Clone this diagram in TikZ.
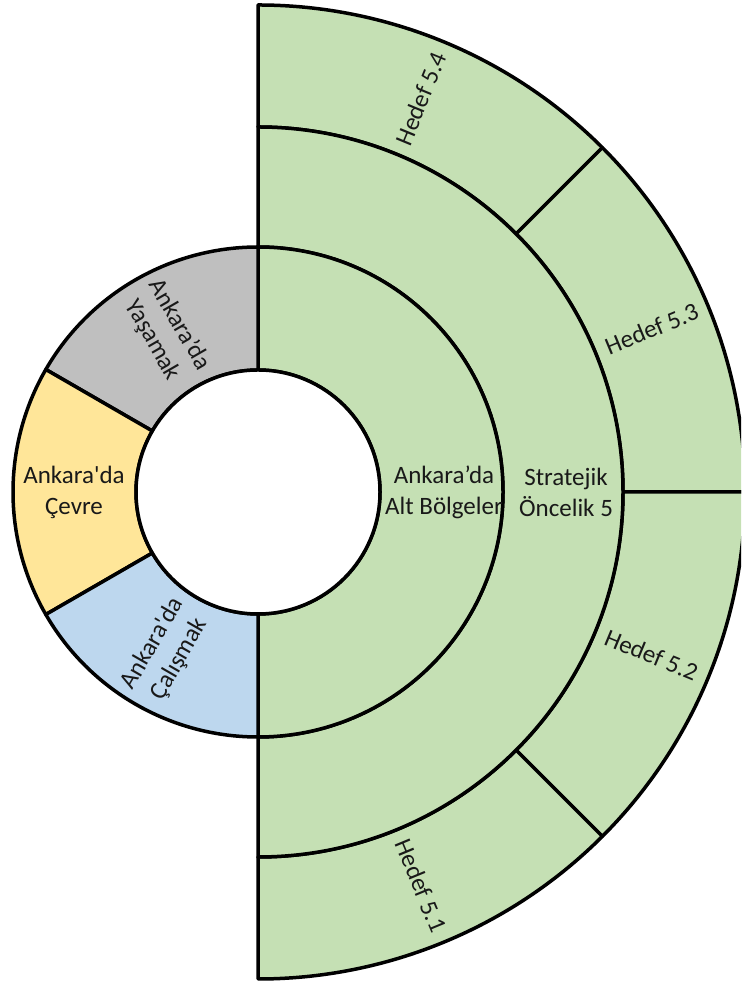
\documentclass[tikz,border=0pt]{standalone}
\usepackage{fontspec}
\setmainfont{Carlito}[Ligatures=TeXOff]
\definecolor{cgreen}{HTML}{C5E0B4}
\definecolor{cgray}{HTML}{BFBFBF}
\definecolor{cyellow}{HTML}{FFE699}
\definecolor{cblue}{HTML}{BDD7EE}
\tikzset{
  seg/.style={draw=black, line width=3.5pt, line join=round},
  lbl/.style={align=center, inner sep=0pt, font=\fontsize{25}{31}\selectfont, text=black!90},
}
\newcommand{\sector}[5]{% style, a, b, r1, r2
  \path[#1] (#2:#5) arc[start angle=#2, end angle=#3, radius=#5] -- (#3:#4) arc[start angle=#3, end angle=#2, radius=#4] -- cycle;
}
\begin{document}
\begin{tikzpicture}[x=1pt,y=1pt]
\useasboundingbox (0,0) rectangle (741,984);
\clip (0,0) rectangle (741,984);
\begin{scope}[shift={(258,492)}]
  % outer ring (Hedef)
  \sector{seg,fill=cgreen}{45}{90}{365}{487}
  \sector{seg,fill=cgreen}{0}{45}{365}{487}
  \sector{seg,fill=cgreen}{-45}{0}{365}{487}
  \sector{seg,fill=cgreen}{-90}{-45}{365}{487}
  % middle ring
  \sector{seg,fill=cgreen}{-90}{90}{245}{365}
  % inner ring
  \sector{seg,fill=cgreen}{-90}{90}{122}{245}
  \sector{seg,fill=cgray}{90}{150}{122}{245}
  \sector{seg,fill=cyellow}{150}{210}{122}{245}
  \sector{seg,fill=cblue}{210}{270}{122}{245}
  \draw[line width=3.5pt, fill=white] (0,0) circle[radius=122];

  \node[lbl, rotate=-60] (yas) at (120:184) {Ankara’da\\Yaşamak};
  \node[lbl] (cev) at (180:184) {Ankara'da\\Çevre};
  \node[lbl, rotate=60] (cal) at (240:184) {Ankara'da\\Çalışmak};
  \node[lbl] (alt) at (0:186) {Ankara’da\\Alt Bölgeler};
  \node[lbl] (str) at (0:308) {Stratejik\\Öncelik 5};
  \node[lbl, rotate=67.5] (h4) at (67.5:426) {Hedef 5.4};
  \node[lbl, rotate=22.5] (h3) at (22.5:426) {Hedef 5.3};
  \node[lbl, rotate=-22.5] (h2) at (-22.5:426) {Hedef 5.2};
  \node[lbl, rotate=-67.5] (h1) at (-67.5:426) {Hedef 5.1};
\end{scope}
\end{tikzpicture}
\end{document}
